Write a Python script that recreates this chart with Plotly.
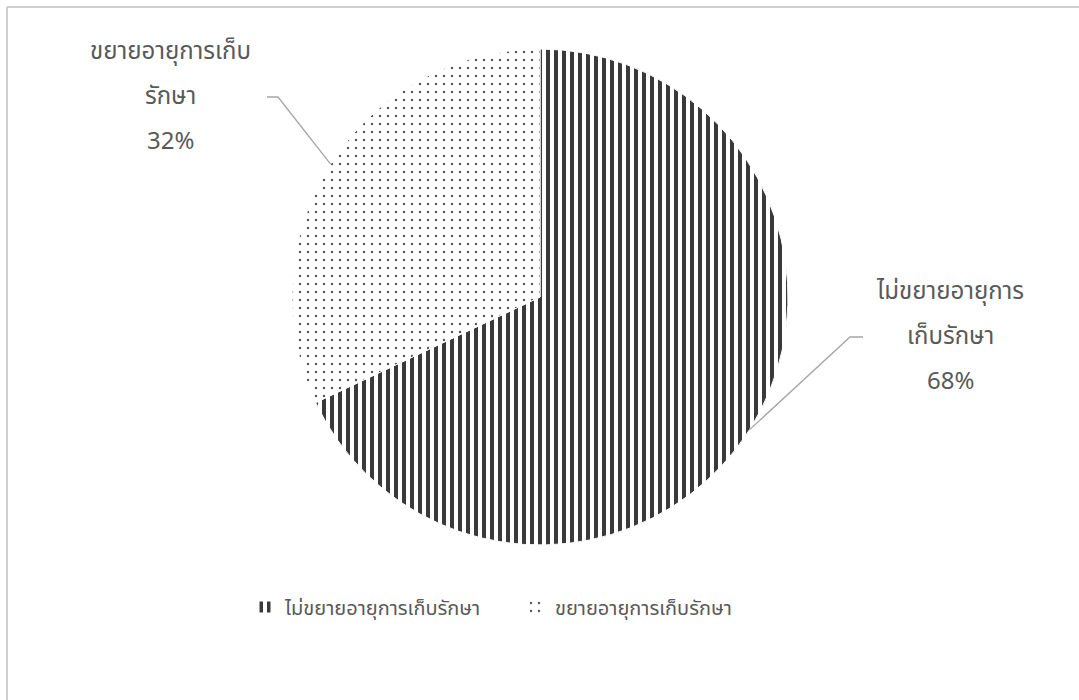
import math
import plotly.graph_objects as go

# Share of products: extended shelf life vs. not extended
labels = ["ไม่ขยายอายุการเก็บรักษา", "ขยายอายุการเก็บรักษา"]
values = [68, 32]
label_lines = [["ไม่ขยายอายุการ", "เก็บรักษา"], ["ขยายอายุการเก็บ", "รักษา"]]

W, H = 1079, 700
CX, CY, R = 540, 297, 248          # pie centre / radius in pixels
TEXT = "#595959"
FONT = "Tahoma, 'Noto Sans Thai', 'Noto Sans', sans-serif"


def px(x, y):
    return x / W, 1 - y / H


fig = go.Figure(
    go.Pie(
        labels=labels,
        values=values,
        sort=False,
        direction="clockwise",
        rotation=0,
        textinfo="none",
        hoverinfo="label+percent",
        marker=dict(
            colors=["white", "white"],
            line=dict(color="white", width=1),
            pattern=dict(
                shape=["|", "."],
                fgcolor=["#3a3a3a", "#555555"],
                bgcolor=["white", "white"],
                fgopacity=1,
                size=[8, 8],
                solidity=[0.5, 0.07],
                fillmode="replace",
            ),
        ),
        domain=dict(x=[(CX - R) / W, (CX + R) / W], y=[(H - CY - R) / H, (H - CY + R) / H]),
    )
)

# Outside labels with elbow leader lines, anchored on each slice's mid-angle
total = sum(values)
label_pos = [  # (text centre x, middle line y, elbow x, line end x)
    (950, 337, 850, 863),
    (170, 97, 278, 267),
]
shapes = []
annotations = []
cum = 0
for i, v in enumerate(values):
    mid = (cum + v / 2) / total * 2 * math.pi
    cum += v
    sx = CX + R * math.sin(mid)
    sy = CY - R * math.cos(mid)
    tx, ty, ex, endx = label_pos[i]
    x0, y0 = px(sx, sy)
    x1, y1 = px(ex, ty)
    x2, y2 = px(endx, ty)
    shapes.append(dict(type="path", xref="paper", yref="paper",
                       path=f"M {x0} {y0} L {x1} {y1} L {x2} {y2}",
                       line=dict(color="#a6a6a6", width=1.3)))
    pct = f"{round(v / total * 100)}%"
    lines = label_lines[i] + [pct]
    for k, t in enumerate(lines):
        ax, ay = px(tx, ty + (k - 1) * 45)
        annotations.append(dict(x=ax, y=ay, xref="paper", yref="paper", text=t,
                                showarrow=False, xanchor="center", yanchor="middle",
                                font=dict(size=24, color=TEXT, family=FONT)))

# Chart-area border (top and left edges)
shapes.append(dict(type="line", xref="paper", yref="paper", x0=px(7, 7)[0], y0=px(7, 7)[1],
                   x1=1, y1=px(7, 7)[1], line=dict(color="#bfbfbf", width=1.5)))
shapes.append(dict(type="line", xref="paper", yref="paper", x0=px(7, 7)[0], y0=px(7, 7)[1],
                   x1=px(7, 7)[0], y1=0, line=dict(color="#bfbfbf", width=1.5)))

fig.update_layout(
    width=W, height=H,
    margin=dict(l=0, r=0, t=0, b=0),
    paper_bgcolor="white",
    plot_bgcolor="white",
    showlegend=True,
    legend=dict(orientation="h", x=245 / W, xanchor="left", y=1 - 607 / H, yanchor="middle",
                font=dict(size=20, color=TEXT, family=FONT), itemwidth=30,
                traceorder="normal", entrywidth=225),
    shapes=shapes,
    annotations=annotations,
)

fig.write_html("out.html")
